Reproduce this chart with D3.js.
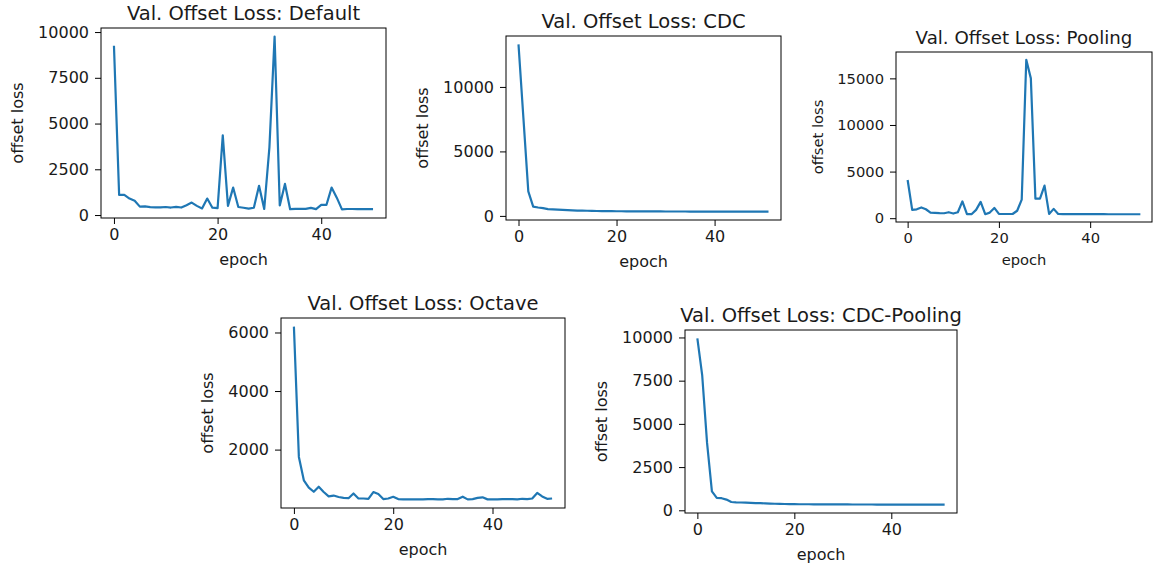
<!DOCTYPE html>
<html>
<head>
<meta charset="utf-8">
<script src="https://cdn.jsdelivr.net/npm/d3@7"></script>
<style>
    body { margin: 0; background: #fff; }
    svg text { font-family: "DejaVu Sans", sans-serif; fill: #1a1a1a; }
</style>
</head>
<body>
<svg id="chart" width="1153" height="565"></svg>
<script>
// validation offset loss per epoch
const defaultLoss = [9250, 1100, 1100, 900, 780, 460, 470, 430, 420, 420, 440, 410, 450, 410, 540, 680, 500, 360, 900, 400,
    380, 4350, 500, 1500, 440, 400, 350, 400, 1600, 330, 3700, 9750, 520, 1700, 320, 340, 340, 340, 390, 320,
    550, 550, 1500, 950, 310, 330, 330, 320, 320, 320, 320];
const cdcLoss = [13300, 7600, 1900, 720, 650, 600, 530, 510, 490, 470, 450, 430, 410, 410, 400, 390, 380, 375, 370, 365,
    360, 360, 355, 355, 350, 350, 350, 345, 345, 345, 340, 340, 340, 340, 340, 335, 335, 335, 335, 335,
    335, 330, 330, 330, 330, 330, 330, 330, 330, 330, 330, 330];
const poolingLoss = [4100, 890, 950, 1150, 960, 600, 570, 535, 530, 640, 500, 640, 1800, 430, 430, 890, 1750, 430, 600, 1100,
    460, 450, 450, 450, 800, 2000, 17000, 15000, 2100, 2100, 3500, 460, 1000, 450, 440, 440, 440, 440, 440, 430,
    430, 430, 430, 430, 420, 420, 420, 420, 420, 420, 420, 420];
const octaveLoss = [6200, 1750, 950, 700, 560, 730, 550, 400, 430, 380, 350, 340, 500, 330, 330, 320, 550, 480, 310, 330,
    390, 310, 300, 300, 300, 300, 300, 310, 310, 300, 300, 320, 310, 310, 390, 300, 310, 350, 370, 300,
    300, 300, 310, 310, 310, 300, 320, 310, 330, 520, 400, 320, 330];
const cdcPoolingLoss = [9950, 7800, 3900, 1100, 720, 700, 620, 480, 460, 450, 440, 430, 420, 410, 400, 390, 380, 370, 365, 360,
    355, 350, 350, 350, 345, 345, 345, 340, 340, 340, 340, 340, 335, 335, 335, 335, 335, 330, 330, 330,
    330, 330, 330, 330, 325, 325, 325, 325, 325, 325, 325, 325];

const titles = ["Val. Offset Loss: Default", "Val. Offset Loss: CDC", "Val. Offset Loss: Pooling",
    "Val. Offset Loss: Octave", "Val. Offset Loss: CDC-Pooling"];
const xTicks = [0, 20, 40];
const defaultTicks = [0, 2500, 5000, 7500, 10000];
const cdcTicks = [0, 5000, 10000];
const poolingTicks = [0, 5000, 10000, 15000];
const octaveTicks = [2000, 4000, 6000];
const cdcPoolingTicks = [0, 2500, 5000, 7500, 10000];
const xLabel = "epoch";
const yLabel = "offset loss";

class LossPanel {
    constructor(_config) {
        this.config = {
            parentElement: _config.parentElement,
            left: _config.left,
            top: _config.top,
            width: _config.width,
            height: _config.height,
            fontSize: _config.fontSize || 16,
            titleSize: _config.titleSize || 19.5
        }
        this.title = _config.title;
        this.data = _config.data;
        this.yTicks = _config.yTicks;
    }

    initVis() {
        let vis = this;
        let c = vis.config;
        let n = vis.data.length - 1;

        vis.g = d3.select(c.parentElement).append('g')
            .attr('transform', `translate(${c.left},${c.top})`);

        // matplotlib style 5% margins
        vis.x = d3.scaleLinear()
            .domain([-0.05 * n, n * 1.05])
            .range([0, c.width]);

        let lo = d3.min(vis.data), hi = d3.max(vis.data), pad = (hi - lo) * 0.05;
        vis.y = d3.scaleLinear()
            .domain([lo - pad, hi + pad])
            .range([c.height, 0]);

        vis.render();
    }

    render() {
        let vis = this;
        let c = vis.config;

        let xAxis = vis.g.append('g')
            .attr('transform', `translate(0,${c.height})`)
            .call(d3.axisBottom(vis.x).tickValues(xTicks).tickFormat(d3.format('d')).tickSize(6).tickPadding(5));
        let yAxis = vis.g.append('g')
            .call(d3.axisLeft(vis.y).tickValues(vis.yTicks).tickFormat(d3.format('d')).tickSize(6).tickPadding(6));

        [xAxis, yAxis].forEach(ax => {
            ax.select('.domain').remove();
            ax.attr('font-family', null).attr('font-size', null);
            ax.selectAll('line').attr('stroke', '#000').attr('stroke-width', 1);
            ax.selectAll('text').style('font-size', c.fontSize + 'px').attr('fill', '#1a1a1a');
        });

        vis.g.append('path')
            .datum(vis.data)
            .attr('fill', 'none')
            .attr('stroke', '#1f77b4')
            .attr('stroke-width', 2.2)
            .attr('stroke-linejoin', 'round')
            .attr('d', d3.line().x((d, i) => vis.x(i)).y(d => vis.y(d)));

        vis.g.append('rect')
            .attr('width', c.width)
            .attr('height', c.height)
            .attr('fill', 'none')
            .attr('stroke', '#000')
            .attr('stroke-width', 1);

        vis.g.append('text')
            .attr('x', c.width / 2)
            .attr('y', -8)
            .attr('text-anchor', 'middle')
            .style('font-size', c.titleSize + 'px')
            .text(vis.title);

        vis.g.append('text')
            .attr('x', c.width / 2)
            .attr('y', c.height + 47 * c.fontSize / 16)
            .attr('text-anchor', 'middle')
            .style('font-size', c.fontSize + 'px')
            .text(xLabel);

        // put the y label just left of the widest tick label
        let labelX = yAxis.node().getBBox().x - 11 - 0.24 * c.fontSize;
        vis.g.append('text')
            .attr('transform', `translate(${labelX},${c.height / 2}) rotate(-90)`)
            .attr('text-anchor', 'middle')
            .style('font-size', c.fontSize + 'px')
            .text(yLabel);
    }
}

const panels = [
    { title: titles[0], data: defaultLoss, yTicks: defaultTicks, left: 101, top: 28, width: 285, height: 190 },
    { title: titles[1], data: cdcLoss, yTicks: cdcTicks, left: 506, top: 36, width: 275, height: 184 },
    { title: titles[2], data: poolingLoss, yTicks: poolingTicks, left: 896, top: 52, width: 256, height: 170, fontSize: 14.7, titleSize: 18.2 },
    { title: titles[3], data: octaveLoss, yTicks: octaveTicks, left: 281, top: 318, width: 284, height: 190 },
    { title: titles[4], data: cdcPoolingLoss, yTicks: cdcPoolingTicks, left: 685, top: 330, width: 272, height: 183 }
];

panels.forEach(p => {
    let panel = new LossPanel(Object.assign({ parentElement: '#chart' }, p));
    panel.initVis();
});
</script>
</body>
</html>
